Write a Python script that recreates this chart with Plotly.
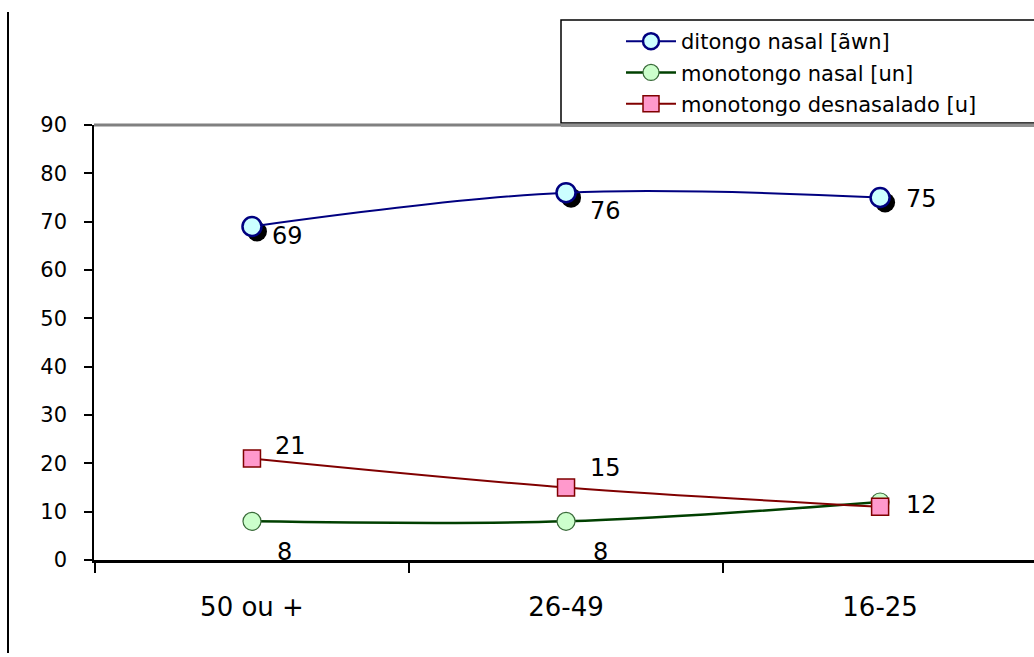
import plotly.graph_objects as go

categories = ["50 ou +", "26-49", "16-25"]
ditongo = [69, 76, 75]
mono_nasal = [8, 8, 12]
mono_desnas = [21, 15, 11]
names = ["ditongo nasal [ãwn]", "monotongo nasal [un]", "monotongo desnasalado [u]"]
y_ticks = [0, 10, 20, 30, 40, 50, 60, 70, 80, 90]

# label offsets in pixels (styling only)
off_dit = [(36, -9), (39, -18), (41, -1)]
off_nas = [(33, -31), (34, -31), (41, -3)]
off_des = [(39, 13), (39, 20), None]

FONT = "DejaVu Sans, Liberation Sans, Arial"
W, H = 1034, 657
L, R, T, B = 94, 0, 125, 97
PW, PH = W - L - R, H - T - B
x0, x1 = -0.503, 2.49
y0, y1 = 0, 90
sh = 5  # shadow offset px
s = sh / PW
t = sh / PH

fig = go.Figure()

# shadow (black) for ditongo markers on a separate, slightly shifted subplot drawn underneath
fig.add_trace(go.Scatter(
    x=[0, 1, 2], y=ditongo, mode="markers", xaxis="x", yaxis="y",
    marker=dict(size=20, color="black", symbol="circle"),
    showlegend=False, hoverinfo="skip", cliponaxis=False))

fig.add_trace(go.Scatter(
    x=categories, y=ditongo, name=names[0], mode="lines+markers", xaxis="x2", yaxis="y2",
    line=dict(color="#000080", width=2, shape="spline"),
    marker=dict(size=19, color="#CCFFFF", line=dict(color="#000080", width=2.5)),
    legendgroup="a", cliponaxis=False))
fig.add_trace(go.Scatter(
    x=categories, y=mono_nasal, name=names[1], mode="lines+markers", xaxis="x2", yaxis="y2",
    line=dict(color="#004000", width=2.5, shape="spline"),
    marker=dict(size=18, color="#CCFFCC", line=dict(color="#3A6B3A", width=1.2)),
    legendgroup="b", cliponaxis=False))
fig.add_trace(go.Scatter(
    x=categories, y=mono_desnas, name=names[2], mode="lines+markers", xaxis="x2", yaxis="y2",
    line=dict(color="#800000", width=2, shape="spline"),
    marker=dict(size=17, symbol="square", color="#FF99CC", line=dict(color="#800000", width=1.5)),
    legendgroup="c", cliponaxis=False))

annotations = []
for series, offs in ((ditongo, off_dit), (mono_nasal, off_nas), (mono_desnas, off_des)):
    for c, v, o in zip(categories, series, offs):
        if o is None:
            continue
        annotations.append(dict(x=c, y=v, xref="x2", yref="y2", text=str(v), showarrow=False,
                                xshift=o[0], yshift=o[1],
                                font=dict(family=FONT, size=24, color="black")))

def px_x(p):
    return (p - L) / PW

def px_y(p):
    return (H - B - p) / PH

shapes = [
    dict(type="line", xref="paper", yref="paper", x0=px_x(8), x1=px_x(8), y0=px_y(12), y1=px_y(653),
         line=dict(color="black", width=2)),
    dict(type="line", xref="paper", yref="paper", x0=0, x1=1, y0=1, y1=1,
         line=dict(color="#808080", width=3)),
    dict(type="rect", xref="paper", yref="paper", x0=px_x(561), x1=px_x(1040), y0=px_y(20), y1=px_y(123),
         line=dict(color="black", width=1.5), fillcolor="white", layer="below"),
    dict(type="line", xref="paper", yref="paper", x0=px_x(561), x1=px_x(1040), y0=px_y(125.5), y1=px_y(125.5),
         line=dict(color="#909090", width=3)),
]

fig.update_layout(
    width=W, height=H,
    margin=dict(l=L, r=R, t=T, b=B, pad=0),
    paper_bgcolor="white", plot_bgcolor="rgba(0,0,0,0)",
    font=dict(family=FONT, color="black"),
    showlegend=True,
    legend=dict(x=px_x(621), y=px_y(21), xanchor="left", yanchor="top",
                bgcolor="rgba(0,0,0,0)", borderwidth=0,
                font=dict(size=21, family=FONT),
                traceorder="grouped", tracegroupgap=1, itemwidth=50),
    xaxis=dict(domain=[s, 1], range=[x0, x0 + (1 - s) * (x1 - x0)], visible=False, anchor="y",
               fixedrange=True),
    yaxis=dict(domain=[0, 1 - t],
               range=[y0 + sh * (y1 - y0) / PH, y0 + sh * (y1 - y0) / PH + (1 - t) * (y1 - y0)],
               visible=False, anchor="x", fixedrange=True),
    xaxis2=dict(type="category", categoryarray=categories, range=[x0, x1],
                domain=[0, 1], anchor="y2",
                showgrid=False, zeroline=False, showline=True, linecolor="black", linewidth=3,
                ticks="outside", ticklen=10, tickwidth=2, tickcolor="black", tickson="boundaries",
                tickfont=dict(size=26), ticklabelstandoff=22),
    yaxis2=dict(range=[y0, y1], tickvals=y_ticks, showgrid=False, zeroline=False,
                domain=[0, 1], anchor="x2",
                showline=True, linecolor="black", linewidth=1.5,
                ticks="outside", ticklen=8, tickwidth=1.5, tickcolor="black",
                tickfont=dict(size=21), ticklabelstandoff=13),
    annotations=annotations,
    shapes=shapes,
)

fig.write_html("out.html", post_script="document.body.style.margin='0';",
               config={"displayModeBar": False})
